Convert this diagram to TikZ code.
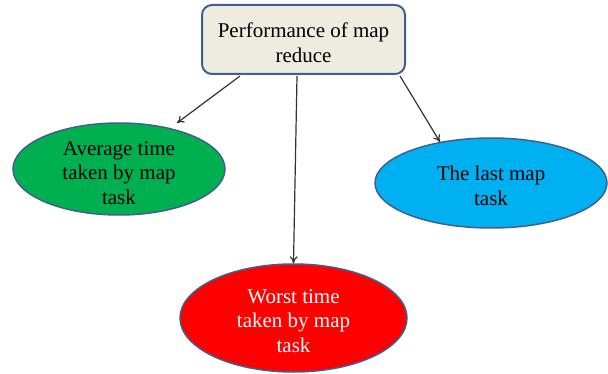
\documentclass[tikz,border=0pt]{standalone}
\usepackage{fontspec}
\setmainfont{Liberation Serif}
\usetikzlibrary{shapes.geometric,arrows.meta}
\definecolor{boxfill}{HTML}{EEECE1}
\definecolor{edge}{HTML}{3F5F8F}
\definecolor{ogreen}{HTML}{00B050}
\definecolor{oblue}{HTML}{00B0F0}
\definecolor{ored}{HTML}{FF0000}
\tikzset{
  topbox/.style={draw=edge, line width=2pt, fill=boxfill, rounded corners=10pt, minimum width=203pt, minimum height=69pt, inner sep=0pt},
  oval/.style={ellipse, draw=edge, line width=1.5pt, inner sep=0pt},
  conn/.style={draw=black!80, line width=1.2pt, -{To[length=7pt,width=8pt]}},
  txt/.style={font=\fontsize{21}{24.5}\selectfont, align=center, inner sep=0pt}
}
\begin{document}
\begin{tikzpicture}[x=1pt,y=-1pt]
\useasboundingbox (0,0) rectangle (608,374);
\node[topbox] (top) at (303.5,39.5) {};
\node[txt] (toptxt) at (303.5,42.5) {Performance of map\\reduce};
\node[oval, fill=ogreen, minimum width=212pt, minimum height=92pt] (avg) at (119,169) {};
\node[txt] (avgtxt) at (119,173) {Average time\\taken by map\\task};
\node[oval, fill=oblue, minimum width=232pt, minimum height=90pt] (last) at (491,183) {};
\node[txt] (lasttxt) at (491,186) {The last map\\task};
\node[oval, fill=ored, minimum width=227pt, minimum height=108pt] (worst) at (293.5,318) {};
\node[txt, text=white] (worsttxt) at (293.5,321) {Worst time\\taken by map\\task};
\coordinate (s1) at (240,76);
\coordinate (s2) at (297,76);
\coordinate (s3) at (400,76);
\draw[conn] (s1) -- (177,123);
\draw[conn] (s2) -- (worst.north);
\draw[conn] (s3) -- (440,142);
\end{tikzpicture}
\end{document}
